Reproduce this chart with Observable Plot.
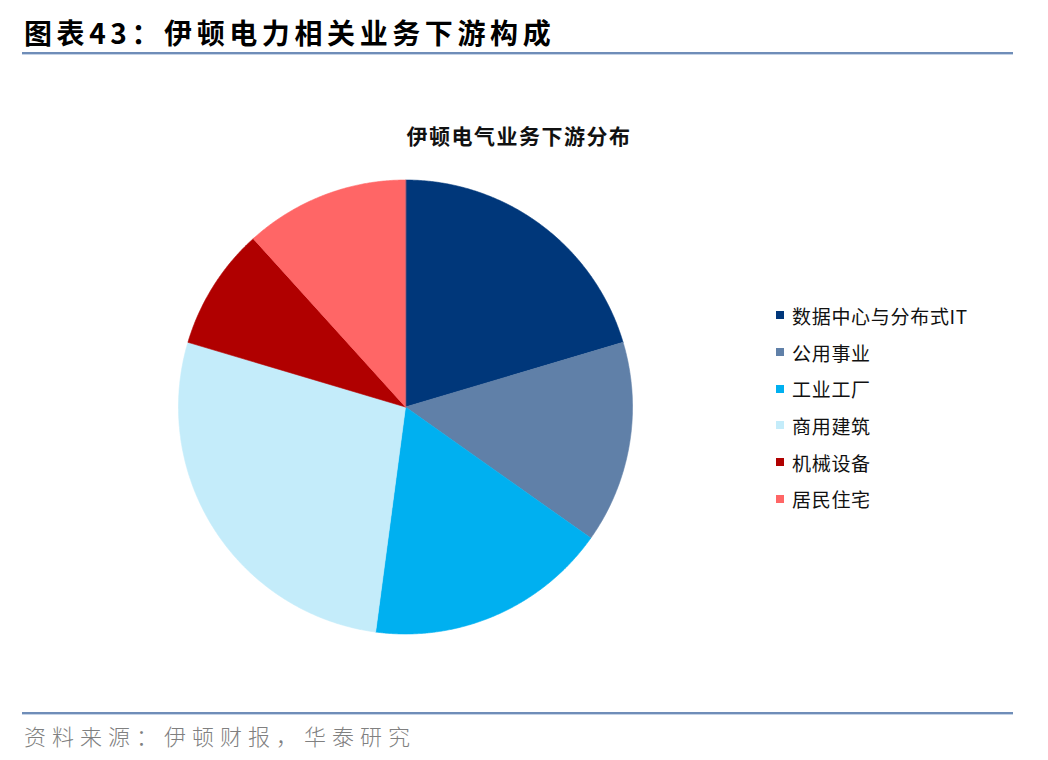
<!DOCTYPE html>
<html>
<head>
<meta charset="utf-8">
<script src="https://cdn.jsdelivr.net/npm/d3@7"></script>
<script src="https://cdn.jsdelivr.net/npm/@observablehq/plot@0.6"></script>
<style>
  html, body { margin: 0; padding: 0; background: #fff; }
  #wrap { position: relative; width: 1048px; height: 760px; overflow: hidden; font-family: "Noto Sans CJK SC", "Noto Sans", sans-serif; }
  #title { position: absolute; left: 24px; top: 13px; font-size: 28px; font-weight: 700; letter-spacing: 4.6px; color: #000; line-height: 38px; }
  .rule { position: absolute; left: 22px; width: 991px; height: 2px; background: #6f8db8; border-bottom: 1px solid #c5d3e6; }
  #sub { position: absolute; left: 0; width: 1038px; top: 120px; text-align: center; font-size: 21px; font-weight: 700; letter-spacing: 1.5px; color: #111; }
  #foot { position: absolute; left: 24px; top: 719px; font-size: 22px; font-weight: 300; letter-spacing: 6px; color: #808080; line-height: 32px; }
  #legend { position: absolute; left: 776px; top: 297px; }
  .item { height: 36.7px; display: flex; align-items: center; font-size: 19px; letter-spacing: 0.7px; color: #111; }
  .sw { width: 8px; height: 8px; margin-right: 8px; }
  #plot { position: absolute; left: 0; top: 60px; }
</style>
</head>
<body>
<div id="wrap">
  <div id="title">图表43：伊顿电力相关业务下游构成</div>
  <div class="rule" style="top:52px"></div>
  <div id="sub">伊顿电气业务下游分布</div>
  <div id="plot"></div>
  <div id="legend"></div>
  <div class="rule" style="top:712px"></div>
  <div id="foot">资料来源：伊顿财报，华泰研究</div>
</div>
<script>
const categories = ["数据中心与分布式IT", "公用事业", "工业工厂", "商用建筑", "机械设备", "居民住宅"];
const shares = [20.4, 14.4, 17.3, 27.5, 8.7, 11.7];
const colors = ["#00377a", "#6080a8", "#00b0f0", "#c4ecfa", "#b00000", "#ff6666"];

// build slice outlines (unit circle) from the shares with d3.pie
const arcs = d3.pie().sort(null)(shares);
const pts = [];
arcs.forEach((a, i) => {
  const name = categories[i];
  pts.push({name, x: 0, y: 0});
  const n = Math.max(2, Math.ceil((a.endAngle - a.startAngle) / 0.005));
  for (let k = 0; k <= n; k++) {
    const t = a.startAngle + (a.endAngle - a.startAngle) * k / n;
    pts.push({name, x: Math.sin(t), y: Math.cos(t)});
  }
});

const cx = 405, cy = 346.5, r = 227;
const chart = Plot.plot({
  width: 1048,
  height: 640,
  margin: 0,
  x: {domain: [-1, 1], range: [cx - r, cx + r], axis: null},
  y: {domain: [-1, 1], range: [cy + r, cy - r], axis: null},
  color: {domain: categories, range: colors},
  marks: [
    Plot.line(pts, {x: "x", y: "y", z: "name", fill: "name", stroke: "name", strokeWidth: 0.6, curve: "linear-closed"})
  ]
});
document.getElementById("plot").appendChild(chart);

const lg = document.getElementById("legend");
categories.forEach((c, i) => {
  const d = document.createElement("div");
  d.className = "item";
  d.innerHTML = `<span class="sw" style="background:${colors[i]}"></span><span>${c}</span>`;
  lg.appendChild(d);
});
</script>
</body>
</html>
